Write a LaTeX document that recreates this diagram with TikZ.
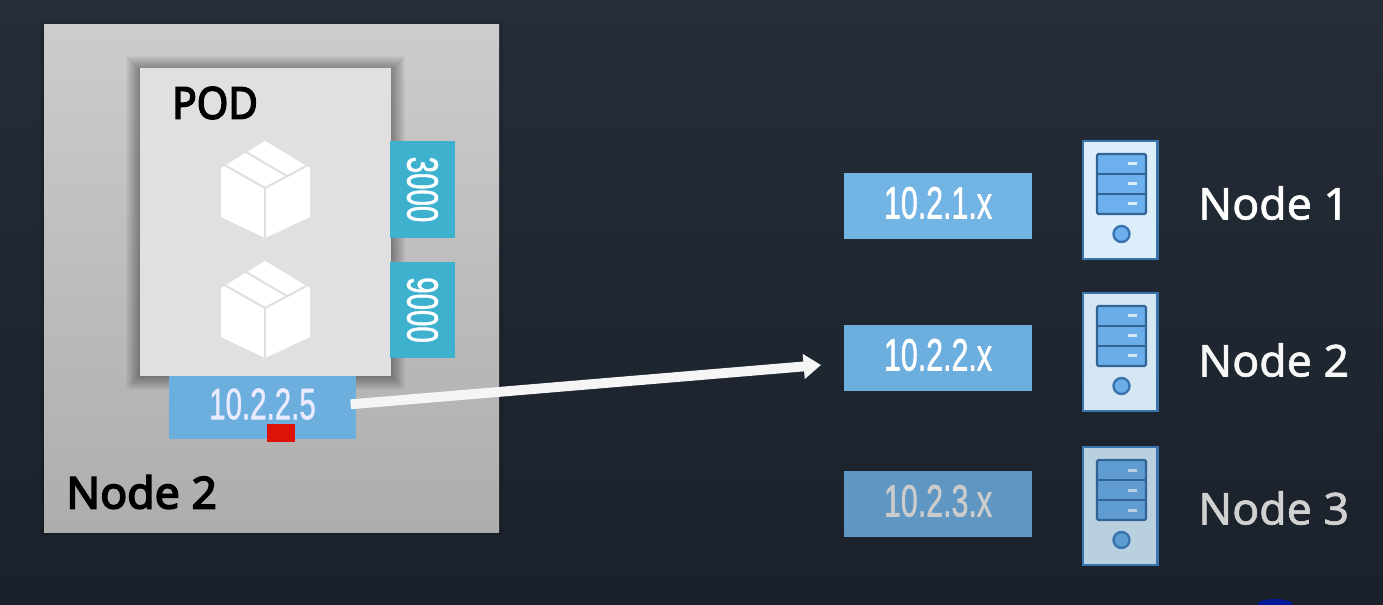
\documentclass[tikz,border=0pt]{standalone}
\usepackage{fontspec}
\setmainfont{Noto Sans}
\newfontfamily\condfont[FakeBold=1.4]{Liberation Sans}
\newfontfamily\medfont[FakeBold=3.5]{Noto Sans}
\newfontfamily\lblfont[FakeBold=1.4]{Noto Sans}
\usetikzlibrary{arrows.meta,calc}
\definecolor{bgtop}{HTML}{252D38}
\definecolor{bgbot}{HTML}{1A212B}
\definecolor{subnetblue}{HTML}{72B4E4}
\definecolor{subnetmid}{HTML}{6CAEDE}
\definecolor{subnetdim}{HTML}{5F97C2}
\definecolor{porttl}{HTML}{3EB1CF}
\definecolor{iconedge}{HTML}{3A74AE}
\definecolor{srvAApanel}{HTML}{6DB0EE}
\definecolor{srvBBpanel}{HTML}{6AADE8}
\definecolor{srvCCpanel}{HTML}{5E9CD2}
\definecolor{bodyA}{HTML}{DDEEFB}
\definecolor{bodyB}{HTML}{D6E7F4}
\definecolor{bodyC}{HTML}{B8D0E0}
\definecolor{markerred}{HTML}{DE1206}
\newcommand{\condtext}[1]{\scalebox{.67}[1]{\condfont #1}}
\newcommand{\widetext}[1]{\scalebox{1.015}[1]{#1}}
\tikzset{
  x=0.75pt,y=-0.75pt,
  boxnode/.style={draw=none,inner sep=0pt,outer sep=0pt,anchor=north west},
  subnetbox/.style={boxnode,minimum width=141pt,minimum height=49.5pt,fill=subnetblue,text=white,font=\fontsize{34}{34}\selectfont},
  portbox/.style={boxnode,minimum width=48.75pt,minimum height=72.75pt,fill=porttl,text=white,font=\fontsize{33}{33}\selectfont},
  nodelabel/.style={inner sep=0pt,anchor=west,font=\fontsize{33}{33}\selectfont\lblfont},
  blacklabel/.style={inner sep=0pt,anchor=west,text=black,font=\fontsize{33}{33}\selectfont\medfont},
}
\newcommand{\softshadow}[5]{% x1 y1 x2 y2 reach
  \foreach \g in {1,...,#5}{
    \fill[black,opacity=.028] (#1-\g,#2-\g+2) rectangle (#3+\g,#4+\g);
  }
}
\newcommand{\cubeicon}[1]{% y offset
  \begin{scope}[yshift=-0.75pt*#1]
    \fill[white] (265,141) -- (310,168) -- (310,217) -- (265,238) -- (221,217) -- (221,168) -- cycle;
    \draw[black!12,line width=1.6pt] (221,163) -- (265,188) -- (312,163);
    \draw[black!12,line width=1.6pt] (265,188) -- (265,240);
    \draw[black!12,line width=1.6pt] (246,152) -- (287,176);
  \end{scope}
}
\newcommand{\servericon}[4]{% name, x, y top, body fill
  \node[boxnode,draw=iconedge,line width=2.2pt,fill=#4,minimum width=56pt,minimum height=88.5pt] (#1) at (#2,#3) {};
  \draw[iconedge!85!black,line width=1.6pt,fill=#1panel,rounded corners=1pt] (#2+14,#3+13) rectangle (#2+63,#3+73);
  \draw[iconedge!85!black,line width=1.6pt] (#2+14,#3+33) -- (#2+63,#3+33) (#2+14,#3+53) -- (#2+63,#3+53);
  \foreach \q in {23,43,63}{\fill[#4] (#2+45,#3+\q-1.5) rectangle (#2+54,#3+\q+1.5);}
  \draw[iconedge,line width=1.8pt,fill=#1panel] (#2+38.5,#3+93) circle (8);
}
\begin{document}
\begin{tikzpicture}
\useasboundingbox (0,0) rectangle (1383,605);
\shade[top color=bgtop,bottom color=bgbot] (0,0) rectangle (1383,605);
\fill[blue!55!black!90!cyan] (1275,605) ellipse (18 and 6);

% node 2 panel
\softshadow{44}{25}{499}{532}{5}
\shade[top color=black!20,bottom color=black!32] (44,25) rectangle (499,532);
\node[boxnode,minimum width=341.25pt,minimum height=380.25pt,fill=none] (nodepanel) at (44,25) {};
\node[blacklabel] (nodetwo) at (66,492) {\widetext{Node 2}};

% pod
\softshadow{140}{68}{391}{376}{14}
\node[boxnode,minimum width=188.25pt,minimum height=231pt,fill=black!12] (pod) at (140,68) {};
\node[blacklabel] (podlabel) at (172,103) {\scalebox{.92}[1]{POD}};
\cubeicon{0}
\cubeicon{120}

% ports
\node[portbox] (portthree) at (390,141) {\rotatebox{-90}{\condtext{3000}}};
\node[portbox,minimum height=72pt] (portnine) at (390,262) {\rotatebox{-90}{\condtext{9000}}};

% pod IP
\node[boxnode,minimum width=140.25pt,minimum height=47.25pt,fill=subnetmid,text=white!92!blue,font=\fontsize{33}{33}\selectfont] (ip) at (169,376) {\raisebox{5.5pt}{\condtext{10.2.2.5}}};
\node[boxnode,minimum width=21pt,minimum height=13.5pt,fill=markerred] (marker) at (267,424) {};

% subnets
\node[subnetbox] (subnetone) at (844,173) {\raisebox{5pt}{\condtext{10.2.1.x}}};
\node[subnetbox,fill=subnetmid] (subnettwo) at (844,325) {\raisebox{5pt}{\condtext{10.2.2.x}}};
\node[subnetbox,fill=subnetdim,text=white!80!black] (subnetthree) at (844,471) {\raisebox{5pt}{\condtext{10.2.3.x}}};

% servers
\servericon{srvAA}{1083}{141}{bodyA}
\servericon{srvBB}{1083}{293}{bodyB}
\servericon{srvCC}{1083}{447}{bodyC}

% labels
\node[nodelabel,text=white] (labelone) at (1198,203) {\widetext{Node 1}};
\node[nodelabel,text=white!97!black] (labeltwo) at (1198,360) {\widetext{Node 2}};
\node[nodelabel,text=white!82!black] (labelthree) at (1198,508) {\widetext{Node 3}};

% connector
\coordinate (arrowtail) at ($(ip.east)+(-4pt,2.4pt)$);
\coordinate (arrowtip) at ($(subnettwo.west)+(-23*0.75pt,-5.25pt)$);
\draw[white!96!black,line width=7.4pt,-{Triangle[length=13pt,width=18pt]}] (arrowtail) -- (arrowtip);
\end{tikzpicture}
\end{document}
